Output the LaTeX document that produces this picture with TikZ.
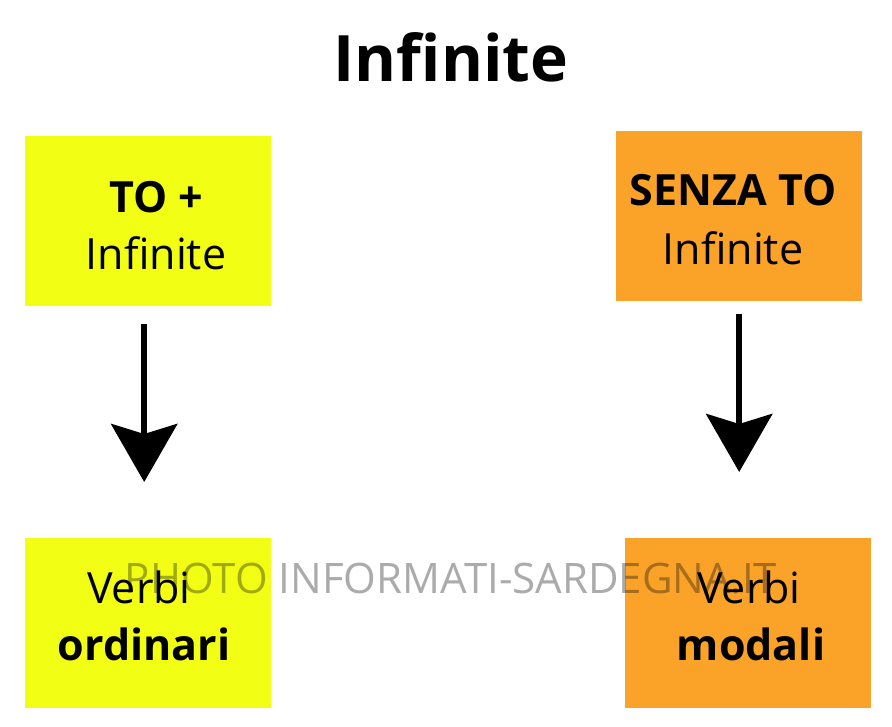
\documentclass[tikz,border=0pt]{standalone}
\usepackage{fontspec}
\setmainfont{Open Sans}
\usetikzlibrary{arrows.meta}
\definecolor{boxyellow}{RGB}{242,255,20}
\definecolor{boxorange}{RGB}{250,163,40}
\begin{document}
\begin{tikzpicture}[x=1pt,y=-1pt,
  box/.style={draw=none,minimum width=246pt,minimum height=170pt,inner sep=0pt,anchor=north west},
  txt/.style={anchor=base,inner sep=0pt,font=\fontsize{43}{43}\selectfont},
  btxt/.style={anchor=base,inner sep=0pt,font=\fontsize{43}{43}\selectfont\bfseries},
  bigarrow/.style={line width=6.5pt,-{Stealth[length=58pt,width=66pt,inset=10pt]}}
]
\useasboundingbox (0,0) rectangle (892,727);
\fill[white] (0,0) rectangle (892,727);
\node[anchor=base,inner sep=0pt,font=\fontsize{64}{64}\selectfont\bfseries] (title) at (451,82) {Infinite};
\node[box,fill=boxyellow] (tl) at (25,136) {};
\node[box,fill=boxorange] (tr) at (616,131) {};
\node[box,fill=boxyellow] (bl) at (25,538) {};
\node[box,fill=boxorange] (br) at (625,538) {};
\node[btxt] (tl1) at (156,213) {TO +};
\node[txt] (tl2) at (156,270) {Infinite};
\node[btxt] (tr1) at (733,206) {SENZA TO};
\node[txt] (tr2) at (733,265) {Infinite};
\node[txt] (bl1) at (139,603) {Verbi};
\node[btxt] (bl2) at (144,660) {ordinari};
\node[txt] (br1) at (749,603) {Verbi};
\node[btxt] (br2) at (751,660) {modali};
\draw[bigarrow,shorten <=18pt,shorten >=56pt] ([xshift=-4pt]tl.south) -- ([xshift=-4pt]tl.south |- bl.north);
\draw[bigarrow,shorten <=13pt,shorten >=66pt] (tr.south) -- (tr.south |- br.north);
\node[anchor=base,inner sep=0pt,font=\fontsize{42}{42}\selectfont,text=black,text opacity=0.33] (wm) at (451,593) {PHOTO INFORMATI-SARDEGNA.IT};
\end{tikzpicture}
\end{document}
